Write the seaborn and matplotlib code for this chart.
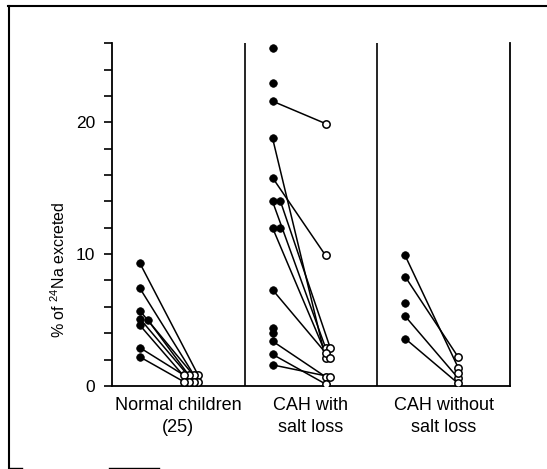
import matplotlib.pyplot as plt
import matplotlib.lines as mlines
import pandas as pd
import seaborn as sns

# groups along the x axis
groups = ["Normal children\n(25)", "CAH with\nsalt loss", "CAH without\nsalt loss"]

# % of 24Na excreted, first (filled) and second (open) measurement, paired
normal_before = [9.3, 7.4, 5.7, 5.1, 5.0, 4.6, 2.9, 2.2]
normal_after = [0.8, 0.3, 0.8, 0.3, 0.8, 0.3, 0.8, 0.3]
salt_before = [21.6, 18.8, 15.8, 14.0, 14.0, 12.0, 7.3, 3.4, 2.4, 1.6]
salt_after = [19.9, 2.1, 9.9, 2.9, 2.9, 2.5, 2.1, 0.7, 0.15, 0.7]
nosalt_before = [9.9, 8.3, 5.3, 3.6]
nosalt_after = [1.4, 2.2, 0.6, 0.2]

# single measurements without a partner
normal_single = []
salt_single = [25.6, 23.0, 12.0, 4.4, 4.0]
nosalt_single = [6.3]
nosalt_single_open = [1.0]

yticks = list(range(0, 27, 2))
ytick_labels = ["0", "", "", "", "", "10", "", "", "", "", "20", "", "", ""]

plt.rcParams["font.family"] = ["Liberation Sans", "DejaVu Sans"]
plt.rcParams["mathtext.fontset"] = "custom"
plt.rcParams["mathtext.rm"] = "Liberation Sans"


def dodge(values, gap, step, cands):
    # shift touching markers sideways, like a tiny beeswarm
    placed = []
    offs = []
    for v in values:
        for c in cands:
            if all(abs(v - pv) >= gap - 1e-9 or pc != c for pv, pc in placed):
                break
        placed.append((v, c))
        offs.append(c * step)
    return offs


data = [
    (normal_before, normal_after, normal_single, [], [0, -1, -2, -3, -4, -5]),
    (salt_before, salt_after, salt_single, [], [0, 1, -1, 2, -2]),
    (nosalt_before, nosalt_after, nosalt_single, nosalt_single_open, [0, 1, -1, 2, -2]),
]

filled_rows, open_rows, line_rows = [], [], []
pair = 0
for gi, (before, after, single, single_open, ocands) in enumerate(data):
    fv = before + single
    ov = after + single_open
    fx = [gi - 0.29 + o for o in dodge(fv, 0.4, 0.06, [0, 1, -1, 2, -2])]
    base = gi + 0.15 if gi == 0 else gi + 0.11
    ox = [base + o for o in dodge(ov, 0.35, 0.035, ocands)]
    for x, v in zip(fx, fv):
        filled_rows.append({"x": x, "value": v})
    for x, v in zip(ox, ov):
        open_rows.append({"x": x, "value": v})
    for i in range(len(before)):
        line_rows.append({"pair": pair, "x": fx[i], "value": before[i]})
        line_rows.append({"pair": pair, "x": ox[i], "value": after[i]})
        pair += 1

filled = pd.DataFrame(filled_rows)
opened = pd.DataFrame(open_rows)
lines = pd.DataFrame(line_rows)

fig = plt.figure(figsize=(5.47, 4.69), dpi=100)
ax = fig.add_axes([0.205, 0.177, 0.727, 0.731])

sns.lineplot(data=lines, x="x", y="value", units="pair", estimator=None,
             sort=False, color="black", lw=1.1, ax=ax, zorder=2)
sns.scatterplot(data=filled, x="x", y="value", color="black", s=30,
                edgecolor="black", linewidth=0.5, ax=ax, zorder=3)
sns.scatterplot(data=opened, x="x", y="value", facecolor="white", s=28,
                edgecolor="black", linewidth=1.1, ax=ax, zorder=4)

ax.set_xlim(-0.5, 2.5)
ax.set_ylim(0, 26)
for b in [0.5, 1.5]:
    ax.axvline(b, color="black", lw=1.2)
ax.spines["top"].set_visible(False)
for s in ["left", "bottom", "right"]:
    ax.spines[s].set_linewidth(1.3)

ax.set_xticks([0, 1, 2])
ax.set_xticklabels(groups, fontsize=13, linespacing=1.35)
ax.tick_params(axis="x", length=0, pad=8)
ax.set_yticks(yticks)
ax.set_yticklabels(ytick_labels, fontsize=12.5)
ax.tick_params(axis="y", length=6, width=1.2, pad=6)
ax.set_xlabel("")
ax.set_ylabel("% of $^{24}$Na excreted", fontsize=11.5)
ax.yaxis.set_label_coords(-0.11, 0.34)

# outer frame of the scanned figure
fig.add_artist(mlines.Line2D([0.015, 1.0], [0.987, 0.987], color="black", lw=1.5))
fig.add_artist(mlines.Line2D([0.016, 0.016], [0.002, 0.987], color="black", lw=1.5))
fig.add_artist(mlines.Line2D([0.018, 0.04], [0.003, 0.003], color="black", lw=1.0))
fig.add_artist(mlines.Line2D([0.2, 0.29], [0.003, 0.003], color="black", lw=1.0))

fig.savefig("out.png", dpi=100)
